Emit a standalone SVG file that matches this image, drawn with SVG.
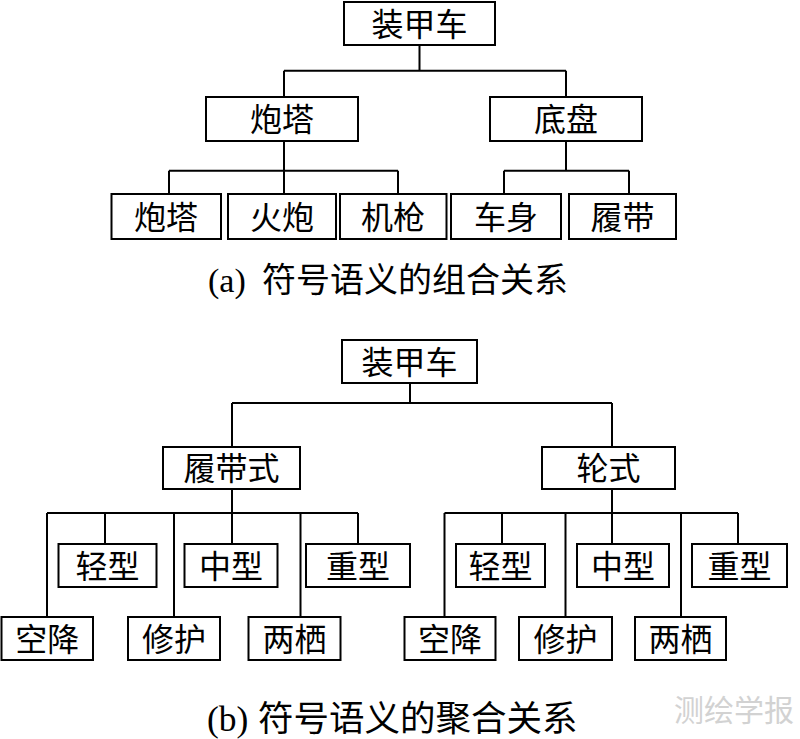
<svg xmlns="http://www.w3.org/2000/svg" width="800" height="739" viewBox="0 0 800 739">
<style>
.b{fill:#fff;stroke:#000;stroke-width:2}
.t{font-family:"Liberation Serif","Noto Sans CJK SC",serif;font-size:32px;text-anchor:middle;fill:#000}
.c{fill:none;stroke:#000;stroke-width:2}
.cap{font-family:"Liberation Serif","Noto Sans CJK SC",serif;font-size:34px;fill:#000}
.wm{font-family:"Noto Sans CJK SC",sans-serif;font-size:30px;fill:#d2d2d2}
</style>
<rect width="800" height="739" fill="#fff"/>
<g id="connectors">
<path class="c" d="M419.5 45V70.7M284 70.7H566M284 70.7V97M566 70.7V97M284 141V194M169 170.7H398M169 170.7V194M398 170.7V194M566 141V170.7M504 170.7H629M504 170.7V194M629 170.7V194"/>
<path class="c" d="M410 383V403M232 403H612M232 403V447M612 403V447M232 489V544M47 513H358M47 513V617M105 513V544M174 513V617M300.5 513V617M358 513V544M612 489V544M444.5 513H738M444.5 513V617M502 513V544M565.5 513V617M681 513V617M738 513V544"/>
</g>
<g id="a-root"><rect class="b" x="344" y="2" width="151" height="43"/><text class="t" x="419.5" y="35.5">装甲车</text></g>
<g id="a-turret"><rect class="b" x="206" y="97" width="152" height="44"/><text class="t" x="282" y="131">炮塔</text></g>
<g id="a-chassis"><rect class="b" x="490" y="97" width="152" height="44"/><text class="t" x="566" y="131">底盘</text></g>
<g id="a-turret2"><rect class="b" x="111.5" y="194" width="109.5" height="45"/><text class="t" x="166" y="228.5">炮塔</text></g>
<g id="a-gun"><rect class="b" x="228" y="194" width="108" height="45"/><text class="t" x="282" y="228.5">火炮</text></g>
<g id="a-mg"><rect class="b" x="340" y="194" width="106.5" height="45"/><text class="t" x="393" y="228.5">机枪</text></g>
<g id="a-body"><rect class="b" x="451" y="194" width="110" height="45"/><text class="t" x="506" y="228.5">车身</text></g>
<g id="a-track"><rect class="b" x="569" y="194" width="107" height="45"/><text class="t" x="622.5" y="228.5">履带</text></g>
<text id="cap-a" class="cap" y="292"><tspan x="208">(a) </tspan><tspan x="262">符号语义的组合关系</tspan></text>
<g id="b-root"><rect class="b" x="342" y="340" width="135" height="43"/><text class="t" x="409.5" y="373.5">装甲车</text></g>
<g id="b-tracked"><rect class="b" x="163" y="447" width="137" height="42"/><text class="t" x="231.5" y="480">履带式</text></g>
<g id="b-wheeled"><rect class="b" x="542" y="447" width="133" height="42"/><text class="t" x="608.5" y="480">轮式</text></g>
<g id="b-l-light"><rect class="b" x="58.5" y="544" width="98" height="43"/><text class="t" x="107.5" y="577.5">轻型</text></g>
<g id="b-l-medium"><rect class="b" x="184.5" y="544" width="93" height="43"/><text class="t" x="231" y="577.5">中型</text></g>
<g id="b-l-heavy"><rect class="b" x="306" y="544" width="104" height="43"/><text class="t" x="358" y="577.5">重型</text></g>
<g id="b-l-air"><rect class="b" x="1.5" y="617" width="91.5" height="43"/><text class="t" x="47.25" y="650.5">空降</text></g>
<g id="b-l-repair"><rect class="b" x="128" y="617" width="92" height="43"/><text class="t" x="174" y="650.5">修护</text></g>
<g id="b-l-amph"><rect class="b" x="248.5" y="617" width="92" height="43"/><text class="t" x="294.5" y="650.5">两栖</text></g>
<g id="b-r-light"><rect class="b" x="456" y="544" width="89" height="43"/><text class="t" x="500.5" y="577.5">轻型</text></g>
<g id="b-r-medium"><rect class="b" x="577" y="544" width="92" height="43"/><text class="t" x="623" y="577.5">中型</text></g>
<g id="b-r-heavy"><rect class="b" x="692" y="544" width="95" height="43"/><text class="t" x="739.5" y="577.5">重型</text></g>
<g id="b-r-air"><rect class="b" x="404.5" y="617" width="91" height="43"/><text class="t" x="450" y="650.5">空降</text></g>
<g id="b-r-repair"><rect class="b" x="519" y="617" width="93" height="43"/><text class="t" x="565.5" y="650.5">修护</text></g>
<g id="b-r-amph"><rect class="b" x="635" y="617" width="91" height="43"/><text class="t" x="680.5" y="650.5">两栖</text></g>
<text id="cap-b" class="cap" y="731" style="font-size:35.5px"><tspan x="207">(b) </tspan><tspan x="258">符号语义的聚合关系</tspan></text>
<text id="watermark" class="wm" x="674" y="721">测绘学报</text>
</svg>
